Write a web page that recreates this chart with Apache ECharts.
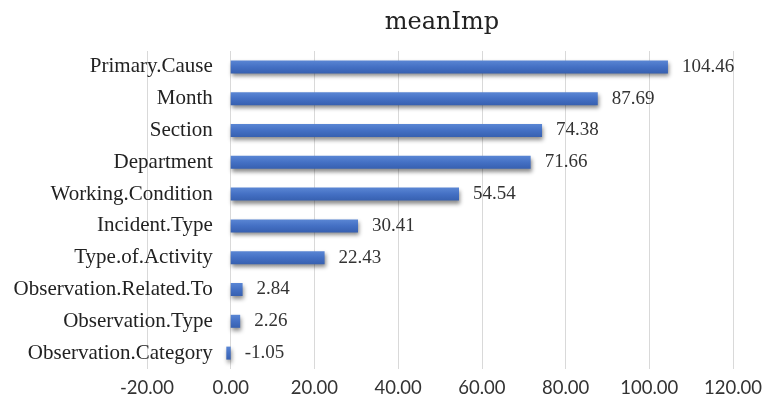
<!DOCTYPE html>
<html>
<head>
<meta charset="utf-8">
<script src="https://cdn.jsdelivr.net/npm/echarts@6/dist/echarts.min.js"></script>
<style>
  html, body { margin: 0; padding: 0; background: #fff; }
  #chart { width: 766px; height: 408px; }
</style>
</head>
<body>
<div id="chart"></div>
<script>
// Variable names, listed bottom-to-top as the category axis draws them
const categories = [
  'Observation.Category',
  'Observation.Type',
  'Observation.Related.To',
  'Type.of.Activity',
  'Incident.Type',
  'Working.Condition',
  'Department',
  'Section',
  'Month',
  'Primary.Cause'
];
// Mean importance per variable
const meanImp = [-1.05, 2.26, 2.84, 22.43, 30.41, 54.54, 71.66, 74.38, 87.69, 104.46];
// Value axis range and step
const axisMin = -20;
const axisMax = 120;
const axisStep = 20;

const serif = '"Liberation Serif", "Times New Roman", serif';
const sans = 'Lato, "Liberation Sans", sans-serif';

const gridLeft = 147;
const gridRight = 33;
const chartWidth = 766;
// Horizontal distance from the grid's left edge to the value 0, where the category axis sits
const zeroShift = (0 - axisMin) / (axisMax - axisMin) * (chartWidth - gridLeft - gridRight);

const chart = echarts.init(document.getElementById('chart'), null, { renderer: 'canvas' });

chart.setOption({
  animation: false,
  backgroundColor: '#ffffff',
  title: {
    text: 'meanImp',
    left: 437,
    textAlign: 'center',
    top: 6,
    textStyle: { fontFamily: '"DejaVu Serif", serif', fontSize: 24, fontWeight: 'normal', color: '#222' }
  },
  grid: {
    left: gridLeft, right: gridRight, top: 51, bottom: 39,
    containLabel: false,
    outerBoundsMode: 'none'
  },
  xAxis: {
    type: 'value',
    min: axisMin,
    max: axisMax,
    interval: axisStep,
    axisLine: { show: false },
    axisTick: { show: false },
    splitLine: { show: true, lineStyle: { color: '#d9d9d9', width: 1 } },
    axisLabel: {
      margin: 10,
      fontFamily: sans,
      fontSize: 18.5,
      color: '#333',
      formatter: v => v.toFixed(2)
    }
  },
  yAxis: {
    type: 'category',
    data: categories,
    offset: -zeroShift,
    axisLine: { show: false, onZero: false },
    axisTick: { show: false },
    axisLabel: {
      margin: 18,
      fontFamily: serif,
      fontSize: 21,
      color: '#222'
    }
  },
  series: [{
    type: 'bar',
    data: meanImp,
    barWidth: 13,
    itemStyle: {
      color: new echarts.graphic.LinearGradient(0, 0, 0, 1, [
        { offset: 0, color: '#5a86d4' },
        { offset: 0.5, color: '#4470c4' },
        { offset: 1, color: '#3760b0' }
      ]),
      shadowColor: 'rgba(0,0,0,0.45)',
      shadowBlur: 4,
      shadowOffsetX: 1,
      shadowOffsetY: 3
    },
    label: {
      show: true,
      position: 'right',
      distance: 14,
      fontFamily: serif,
      fontSize: 19,
      color: '#333',
      formatter: p => p.value.toFixed(2)
    }
  }]
});
</script>
</body>
</html>
